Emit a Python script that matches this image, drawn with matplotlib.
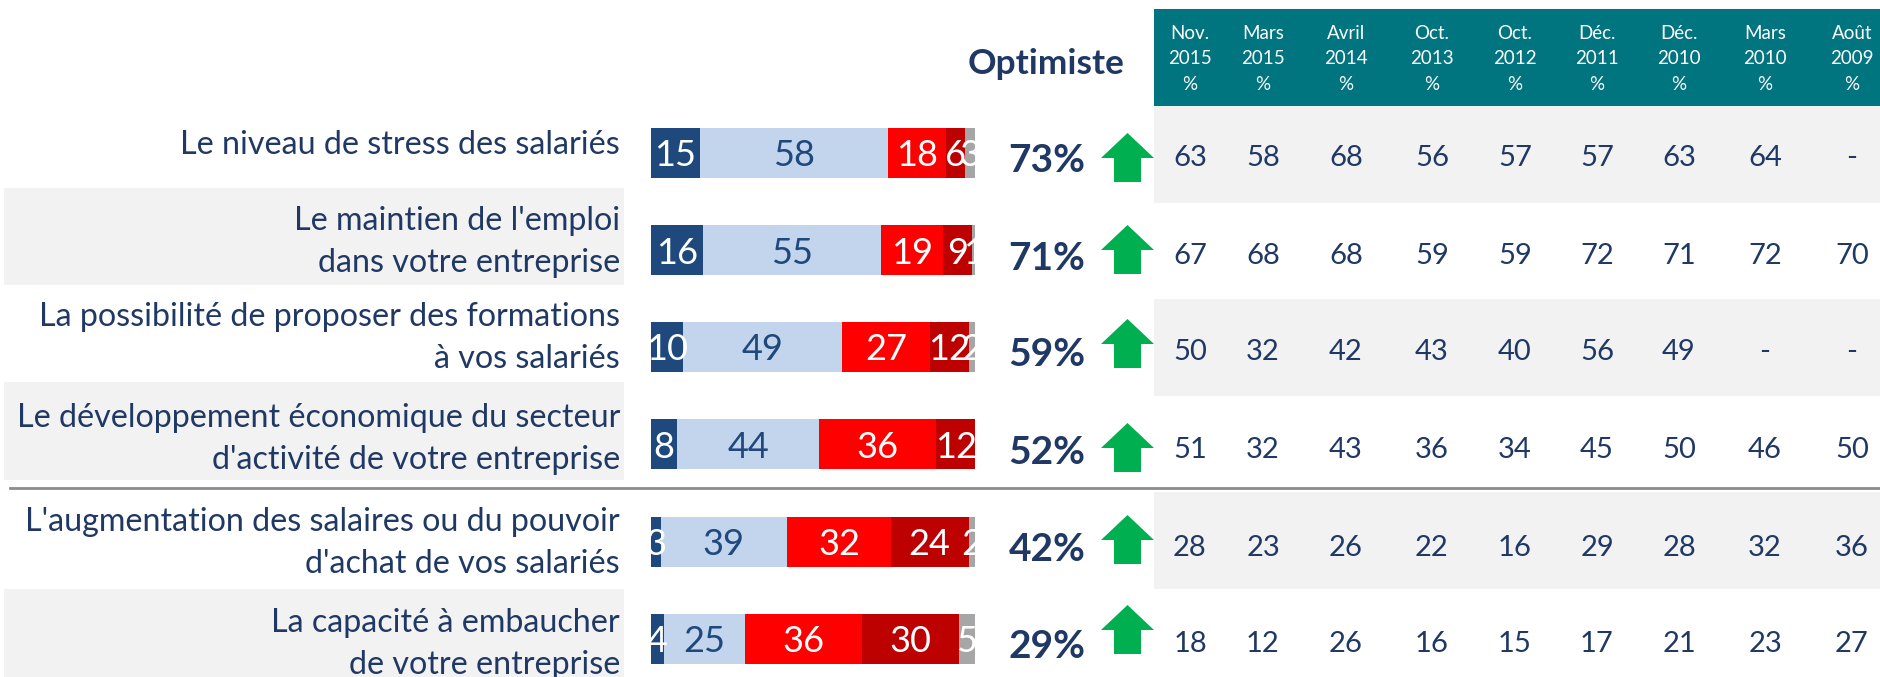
import matplotlib
matplotlib.use('Agg')
import matplotlib.pyplot as plt
from matplotlib.patches import Polygon, Rectangle

plt.rcParams['font.family'] = ['Lato', 'DejaVu Sans']

# data
labels = [
    "Le niveau de stress des salariés",
    "Le maintien de l'emploi\ndans votre entreprise",
    "La possibilité de proposer des formations\nà vos salariés",
    "Le développement économique du secteur\nd'activité de votre entreprise",
    "L'augmentation des salaires ou du pouvoir\nd'achat de vos salariés",
    "La capacité à embaucher\nde votre entreprise",
]
tres_opt = [15, 16, 10, 8, 3, 4]
assez_opt = [58, 55, 49, 44, 39, 25]
assez_pess = [18, 19, 27, 36, 32, 36]
tres_pess = [6, 9, 12, 12, 24, 30]
nsp = [3, 1, 2, 0, 2, 5]
optimiste = ["73%", "71%", "59%", "52%", "42%", "29%"]
dates = ["Nov.\n2015\n%", "Mars\n2015\n%", "Avril\n2014\n%", "Oct.\n2013\n%", "Oct.\n2012\n%",
         "Déc.\n2011\n%", "Déc.\n2010\n%", "Mars\n2010\n%", "Août\n2009\n%"]
history = [
    ["63", "58", "68", "56", "57", "57", "63", "64", "-"],
    ["67", "68", "68", "59", "59", "72", "71", "72", "70"],
    ["50", "32", "42", "43", "40", "56", "49", "-", "-"],
    ["51", "32", "43", "36", "34", "45", "50", "46", "50"],
    ["28", "23", "26", "22", "16", "29", "28", "32", "36"],
    ["18", "12", "26", "16", "15", "17", "21", "23", "27"],
]

# layout, in pixels of the image
W, H = 1881, 677
NAVY = '#1F3864'
bar_y = [153, 250, 347, 444, 541.5, 639]
text_y = [145.5, 242.5, 338.5, 439, 543, 643.5]
hist_y = [158.5, 255.5, 352.5, 449.5, 547.5, 644.5]
arrow_top = [133, 225, 319, 423, 515, 605]
col_x = [1190, 1263, 1346, 1432, 1515, 1597, 1679, 1765, 1852]

fig = plt.figure(figsize=(W / 100, H / 100), dpi=100)
ax = fig.add_axes([0, 0, 1, 1])
ax.set_xlim(0, W)
ax.set_ylim(H, 0)
ax.axis('off')

# grey bands
for y0, y1 in [(188, 285), (382, 480), (589, 677)]:
    ax.add_patch(Rectangle((4, y0), 620, y1 - y0, color='#F2F2F2', lw=0))
for y0, y1 in [(106, 203), (299, 396), (492, 589)]:
    ax.add_patch(Rectangle((1154, y0), W - 1154, y1 - y0, color='#F2F2F2', lw=0))

# header
ax.add_patch(Rectangle((1154, 9), W - 1154, 97, color='#00747F', lw=0))
for x, d in zip(col_x, dates):
    ax.text(x, 59, d, ha='center', va='center', color='white', fontsize=13.5, linespacing=1.6)
ax.text(1046, 64, "Optimiste", ha='center', va='center', color=NAVY, fontsize=25.4, fontweight='bold')

ax.plot([10, W], [488, 488], color='#8C8C8C', lw=2)

for i, lab in enumerate(labels):
    ax.text(620, text_y[i], lab, ha='right', va='center', color=NAVY, fontsize=23.2, linespacing=1.5)
    ax.text(1047, bar_y[i] + 8, optimiste[i], ha='center', va='center', color=NAVY,
            fontsize=28, fontweight='bold')
    t = arrow_top[i]
    ax.add_patch(Polygon([(1127.5, t), (1154, t + 25), (1141, t + 25), (1141, t + 49),
                          (1114, t + 49), (1114, t + 25), (1101, t + 25)], color='#00B050', lw=0))
    for x, v in zip(col_x, history[i]):
        ax.text(x, hist_y[i], v, ha='center', va='center', color=NAVY, fontsize=21)

# stacked bars
bx = fig.add_axes([651 / W, 0, 324 / W, 1])
bx.set_xlim(0, 100)
bx.set_ylim(H, 0)
bx.axis('off')
bx.patch.set_alpha(0)
series = [tres_opt, assez_opt, assez_pess, tres_pess, nsp]
colors = ['#1F497D', '#C3D5ED', '#FF0000', '#BD0000', '#A6A6A6']
txt_colors = ['white', '#1F497D', 'white', 'white', 'white']
left = [0] * len(labels)
for vals, c, tc in zip(series, colors, txt_colors):
    bars = bx.barh(bar_y, vals, left=left, height=50, color=c, lw=0)
    for b, v, y, l in zip(bars, vals, bar_y, left):
        if v > 0:
            bx.text(l + v / 2, y + 3, str(v), ha='center', va='center', color=tc, fontsize=26, clip_on=True)
    left = [a + b for a, b in zip(left, vals)]

fig.savefig('out.png', dpi=100)
